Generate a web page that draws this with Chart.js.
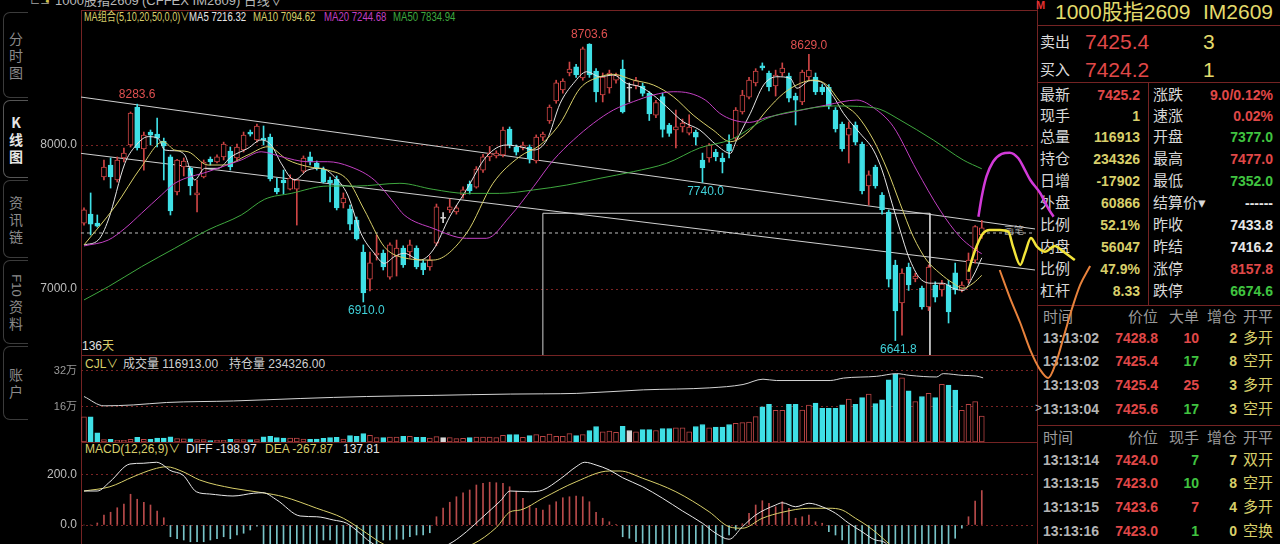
<!DOCTYPE html>
<html lang="zh-CN">
<head>
<meta charset="utf-8">
<title>1000股指2609 日线</title>
<script src="https://cdn.jsdelivr.net/npm/chart.js@4.4.1/dist/chart.umd.min.js"></script>
<style>
  html, body { margin: 0; padding: 0; background: #000; }
  body { width: 1280px; height: 544px; overflow: hidden; position: relative;
         font-family: "Liberation Sans", Arial, "Noto Sans CJK SC", sans-serif; color: #ddd; }
  .t { position: absolute; white-space: nowrap; line-height: 1.15; }
  .hl { position: absolute; height: 1px; background: #742323; }
  .vl { position: absolute; width: 1px; background: #742323; }
  .tab { position: absolute; left: 3px; width: 25px; box-sizing: border-box;
         border: 1px solid #3b3b3b; border-right: none; border-radius: 7px 0 0 7px;
         display: flex; align-items: center; justify-content: center; text-align: center;
         font-family: "Noto Sans CJK SC", sans-serif; font-size: 14px; line-height: 17px; color: #8a8a8a; }
  .tab.on { color: #e6e6e6; border-color: #555; font-weight: bold; }
  .rot { display: inline-block; transform: rotate(90deg); font-family: "Liberation Sans", sans-serif;
         font-size: 13px; margin: 4px 0; }
  canvas { position: absolute; left: 0; z-index: 5; }
  #priceChart { z-index: 6; }
  #penChart { z-index: 7; }
</style>
</head>
<body>
<!-- 左侧页签 -->
<div class="tab" style="top:12px;height:86px">分<br>时<br>图</div>
<div class="tab on" style="top:100px;height:78px">K<br>线<br>图</div>
<div class="tab" style="top:180px;height:78px">资<br>讯<br>链</div>
<div class="tab" style="top:260px;height:84px"><div><span class="rot">F10</span><br>资<br>料</div></div>
<div class="tab" style="top:346px;height:74px">账<br>户</div>

<!-- 框线 -->
<div class="vl" style="left:81px;top:10px;height:534px"></div>
<div class="vl" style="left:1037px;top:0;height:544px"></div>
<div class="hl" style="left:81px;top:10px;width:956px"></div>
<div class="hl" style="left:81px;top:355px;width:956px"></div>
<div class="hl" style="left:81px;top:442px;width:956px"></div>
<div class="hl" style="left:1037px;top:25px;width:243px"></div>
<div class="hl" style="left:1037px;top:82px;width:243px"></div>
<div class="vl" style="left:1148px;top:82px;height:223px"></div>
<div class="hl" style="left:1037px;top:305px;width:243px"></div>
<div class="hl" style="left:1037px;top:425px;width:243px"></div>

<div id="labels"></div>

<canvas id="volChart" width="1100" height="90" style="top:355px"></canvas>
<canvas id="macdChart" width="1100" height="101" style="top:443px"></canvas>
<canvas id="priceChart" width="1100" height="390" style="top:0"></canvas>
<canvas id="penChart" width="1100" height="390" style="top:0"></canvas>

<script>
// 日线 K 线数据 (从图上读取, 共 136 天)
const opens = [7458,7521,7458,7778,7861,7757,7910,8000,8264,7972,
  8090,8076,8028,7917,7674,7847,7840,7653,7778,7903,
  7882,7917,7958,7910,7965,8090,8035,8048,8055,7701,
  7757,7694,7694,7819,7917,7875,7833,7757,7764,7597,
  7556,7479,7257,7069,7236,7250,7083,7229,7285,7257,
  7285,7181,7153,7319,7491,7549,7535,7653,7729,7708,
  7826,7917,7924,7931,8111,7986,7979,7986,7889,8055,
  8167,8306,8382,8500,8542,8465,8701,8514,8347,8396,
  8451,8528,8394,8410,8410,8359,8208,8336,8139,8104,
  8125,8083,8090,7896,7910,7951,7910,8007,8048,8229,
  8333,8431,8549,8500,8410,8500,8479,8340,8299,8472,
  8472,8403,8400,8243,8146,8069,8139,8007,7715,7847,
  7653,7535,7167,6903,7153,7070,7007,6875,7028,6993,
  7028,7113,6993,7063,7201,7377];
const highs = [7563,7667,7514,7896,7910,7917,7979,8229,8283.6,8090,
  8104,8187,8048,7931,7900,7910,7847,7757,7896,7917,
  7931,8020,7986,8007,8090,8104,8145,8132,8076,7771,
  7826,7792,7764,7924,7951,7889,7847,7778,7785,7667,
  7583,7500,7306,7257,7375,7271,7320,7340,7300,7340,
  7300,7200,7230,7590,7530,7625,7580,7710,7750,7850,
  7935,7990,7960,8125,8125,8000,8020,8000,8070,8090,
  8278,8450,8460,8576,8560,8680,8703.6,8530,8500,8520,
  8500,8590,8430,8470,8430,8370,8310,8360,8150,8243,
  8180,8210,8104,7944,8010,7970,7944,8070,8260,8380,
  8470,8530,8570,8514,8520,8570,8500,8360,8520,8629,
  8500,8420,8420,8260,8160,8160,8160,8020,7820,7860,
  7670,7549,7200,7140,7180,7110,7020,7167,7050,7060,
  7060,7180,7050,7250,7440,7477];
const lows = [7444,7375,7430,7757,7701,7743,7882,7986,7965,7826,
  8000,7986,7757,7514,7653,7785,7653,7535,7771,7861,
  7875,7896,7826,7896,7951,8062,8020,8000,7750,7660,
  7660,7688,7444,7806,7861,7826,7736,7604,7549,7563,
  7410,7340,6910,6986,7201,7132,7069,7090,7150,7220,
  7140,7100,7130,7300,7460,7530,7520,7630,7660,7700,
  7810,7890,7910,7917,7980,7930,7965,7875,7875,8030,
  8150,8290,8360,8480,8470,8450,8470,8299,8299,8360,
  8430,8222,8299,8390,8340,8170,8190,8055,8060,7979,
  8090,8070,8000,7740,7880,7890,7806,7910,8030,8215,
  8320,8410,8520,8375,8340,8480,8300,8139,8280,8450,
  8350,8350,8250,8090,7958,7875,8000,7660,7583,7700,
  7520,7014,6641.8,6680,6990,7050,6860,6850,6910,6950,
  6764,6965,6980,7040,7180,7352];
const closes = [7549,7451,7437,7847,7778,7896,7944,8222,7979,8069,
  8069,8048,7993,7542,7896,7889,7715,7667,7882,7882,
  7917,8007,7847,7986,8069,8076,8132,8035,7764,7674,
  7736,7771,7757,7910,7882,7840,7743,7736,7563,7632,
  7451,7347,6972,7181,7250,7153,7306,7285,7167,7306,
  7153,7132,7201,7570,7491,7570,7563,7688,7681,7833,
  7917,7944,7944,8104,8000,7951,8000,7903,8055,8076,
  8264,8431,8444,8528,8486,8667,8486,8368,8472,8500,
  8486,8229,8394,8447,8359,8215,8294,8109,8081,8127,
  8153,8125,8055,7840,8000,7917,7882,7958,8243,8347,
  8451,8514,8535,8403,8486,8535,8326,8312,8507,8521,
  8368,8368,8271,8111,7972,8118,8020,7681,7792,7715,
  7549,7069,6847,7111,7028,7090,6875,7153,6944,7035,
  6840,6993,7028,7201,7433.8,7425.2];

// 成交量 (万手)
const volumes = [11.3,11.3,4.1,1.1,1.2,0.8,0.8,1.2,2.1,1.2,
  1.2,1.8,1.8,2.3,1.5,1.4,1.4,1.1,1.05,0.6,
  0.75,0.75,1.2,1.05,1.05,1.05,1.05,2.3,2.6,2.0,
  1.8,1.8,1.8,1.35,1.2,1.35,1.65,1.95,2.1,1.35,
  2.85,2.55,3.75,3.0,1.95,1.95,2.25,2.25,2.55,2.55,
  2.1,2.1,1.8,2.4,1.95,1.95,1.5,1.65,1.95,2.25,
  2.25,2.25,1.95,3.0,3.3,3.3,2.1,2.9,3.3,2.6,
  3.6,2.6,2.6,3.8,2.9,3.3,5.2,7.0,4.6,4.9,
  4.4,7.1,5.2,4.6,5.6,5.6,5.2,6.1,6.1,6.4,
  6.4,4.6,7.0,7.9,6.4,6.7,6.7,7.9,8.4,8.7,
  9.0,11.4,15.8,17.0,14.3,14.3,17.0,17.0,14.4,16.6,
  17.5,15.2,15.2,15.2,16.7,19.3,17.0,20.0,21.6,17.3,
  19.0,28.0,30.7,28.9,23.1,18.2,20.5,21.9,20.0,26.0,
  25.7,23.4,14.3,17.0,18.2,11.69];

// 持仓量曲线 (按成交量副图刻度, 万)
const oiPts = [[0,20.5],[3,16.3],[7.4,16.7],[12.4,17.8],[22.5,18.5],[32.5,19.6],[42.5,20.5],[52.5,21],
  [64.1,21.6],[69.1,21.7],[74.1,21.9],[84.1,23.5],[94.1,24.4],[99.1,25.9],[102.1,28.3],[104.1,27.7],
  [112.2,27.7],[114.2,28.8],[119.2,29.6],[122.2,30.8],[124.2,30],[128.2,29.3],[129.2,30.8],[132.2,30],
  [134.2,29.7],[135.2,28.9]];

// 均线 (x = 第几根K线, y = 价格)
const ma5Pts = [[0,7306],[2.15,7340],[3.65,7479],[6.15,7873],[7.65,7988],[9.65,8058],[11.15,8046],[12.15,7965],
  [13.65,7960],[15.15,7931],[16.65,7757],[18.15,7838],[20.15,7838],[22.15,7919],[24.65,7977],[26.65,8035],
  [28.15,8000],[29.65,7873],[31.65,7757],[33.65,7826],[35.65,7838],[37.65,7780],[39.65,7653],[41.65,7386],
  [43.65,7248],[45.15,7178],[46.65,7224],[48.15,7248],[50.5,7201],[52.5,7271],[55,7502],[57.5,7688],
  [60.5,7919],[63.5,8000],[66,7984],[67.6,7965],[69.6,8035],[71.6,8289],[73.6,8428],[75.6,8509],
  [77.6,8474],[79.6,8486],[81.6,8428],[83.6,8405],[85.6,8347],[87.6,8266],[90.1,8162],[92.6,8104],
  [95.1,8000],[97.2,7942],[98.1,8030],[100.2,8220],[102.2,8417],[104.2,8474],[106.2,8463],[107.2,8394],
  [109.2,8447],[110.7,8440],[112.7,8336],[114.2,8220],[116.7,8081],[118.7,7965],[120,7826],[121.5,7595],
  [122.7,7410],[124,7224],[125.7,7074],[127.7,7040],[129.2,7040],[130.7,7005],[132.2,6990],[133.7,7090],
  [135,7216.32]];
const ma10Pts = [[0,7306],[4.65,7572],[8.65,7850],[11.9,8023],[13.65,7965],[15.65,7953],[18.65,7861],[21,7861],
  [24.65,7931],[27.65,7988],[30.65,7896],[33.65,7850],[36.65,7826],[39.65,7757],[42.15,7549],[45.15,7294],
  [47.5,7224],[52.5,7201],[57.5,7386],[61.5,7734],[65.5,7919],[68.6,8000],[71.6,8151],[74.6,8394],
  [77.6,8474],[79.6,8491],[82.6,8451],[85.6,8417],[88.6,8336],[91.6,8208],[94.6,8104],[97.2,8023],
  [100.2,8104],[102.7,8243],[105.2,8359],[107.7,8428],[109.7,8451],[111.7,8417],[113.7,8301],[116.2,8208],
  [118.7,8035],[120.8,7826],[122.7,7595],[124.7,7363],[126.7,7201],[128.7,7109],[130.7,7040],[132.2,7005],
  [133.7,7040],[135,7094.62]];
const ma20Pts = [[0,7299],[3.65,7340],[6.15,7421],[8.65,7526],[11.65,7653],[13.65,7734],[18.65,7815],[23.65,7896],
  [26.65,7953],[29.65,7919],[33.65,7884],[36.65,7884],[40,7850],[43.65,7757],[46.65,7597],[48.15,7514],
  [52.5,7421],[57.5,7352],[60.5,7352],[64,7502],[67.6,7711],[70.6,7896],[73.6,8035],[76.6,8151],
  [79.6,8243],[82.6,8301],[85.6,8347],[88.6,8370],[91.1,8359],[93.5,8310],[95.6,8220],[97.6,8174],
  [100.1,8157],[102.7,8192],[106.7,8231],[111.7,8278],[116.2,8312],[119.2,8243],[121.7,8127],[125.2,7826],
  [128.7,7549],[131.7,7363],[133.7,7283],[135,7244.68]];
const ma50Pts = [[0,6924],[3.65,7016],[8.65,7155],[13.65,7283],[18.65,7410],[23.65,7514],[27.15,7623],[31.15,7664],
  [36.65,7715],[41,7715],[47.5,7734],[52.5,7692],[57.5,7664],[62.5,7664],[67.6,7688],[72.6,7722],
  [77.6,7769],[82.6,7815],[87.6,7873],[92.6,7980],[97.4,8040],[102.7,8185],[107.7,8243],[112.7,8271],
  [117.7,8264],[119.7,8248],[122.7,8174],[127.7,8035],[132.2,7896],[135,7834.94]];

// MACD(12,26,9)
const macdHist = [0,0,8,40,51,69,84,123,103,91,80,56,29,
  -47,-55,-60,-67,-67,-67,-60,-55,-47,-55,-40,-33,-20,-5,
  -95,-100,-110,-115,-110,-105,-95,-88,
  -85,-60,-60,-78,
  -90,-100,-110,-120,-115,-100,
  -60,-60,-57,-57,-47,-40,-40,-31,
  33,68,91,113,129,140,160,167,171,169,167,153,135,
  107,77,67,60,80,93,109,113,116,113,93,51,27,13,3,
  -47,-53,-67,-73,
  -85,-95,-100,-110,-115,-120,-115,-110,-100,-95,-85,-78,
  -40,-20,
  5,47,80,97,87,73,93,67,27,33,40,13,7,
  -27,-40,-60,
  -85,-100,-130,-150,-160,-180,-230,-280,-290,-280,-250,-230,-190,-160,-120,-95,
  -53,-13,33,96,137.81];
const diffPts = [[0,136],[2,136],[3.9,173],[6.9,244],[8.9,247],[10.9,251],[11.9,240],[12.9,219],[14.9,199],
  [16.9,133],[18.9,124],[22.4,116],[25.5,127],[26.9,129],[29,100],[32.5,36],[35,33],[37.5,20],[39.5,7],
  [41.5,-33],[43,-67],[46,-110],[50,-130],[53,-100],[55.5,-67],[57.5,-27],[60,33],[62.6,96],[64.1,136],
  [67,133],[69,140],[71.6,184],[74,233],[75.3,251],[77,240],[79,220],[81,189],[84,153],[87,107],[90,56],
  [93,7],[95,-33],[97,-57],[99,-7],[101,40],[104,80],[105,89],[107,73],[109,87],[111,73],[113,47],[115,7],
  [117,-27],[119,-60],[120.7,-76],[123,-250],[125,-330],[127,-350],[129,-330],[131,-290],[133,-250],[135,-198.97]];
const deaPts = [[0,136],[3.9,153],[7.4,193],[10.4,223],[12.4,233],[14.9,213],[17.4,180],[22.4,147],[26.9,129],
  [30,113],[35,67],[39,27],[42.5,-33],[45,-76],[49,-110],[53,-115],[56,-95],[58.5,-76],[62,-10],[64.1,53],
  [65.6,60],[69,107],[74,173],[79,216],[80.6,216],[84,187],[89,133],[94,53],[97,-7],[99,-13],[102,27],
  [105,51],[109,67],[112,67],[114,60],[116,27],[118,-7],[120.7,-67],[124,-150],[127,-220],[130,-260],
  [133,-275],[135,-267.87]];

// 画线: 两条趋势线, 矩形框, 水平虚线, 以及手绘的三笔
const trendA = [[-0.45,8333],[143,7417]];
const trendB = [[-0.45,7942],[143,7132]];
const rectBox = [[69,6541.7],[69,7526],[127.2,7526],[127.2,6541.7]];
const dashLine = [[-0.45,7389],[143,7389]];
const penMagenta = [[134.5,7502],[135,7641],[135.7,7780],[136.7,7884],[138,7938],[139.2,7947],[140.5,7908],
  [141.5,7826],[142.3,7757],[143.8,7665],[145,7560],[145.8,7502]];
const penYellow = [[133,7120],[133.5,7201],[134.2,7294],[135.2,7387],[136.2,7410],[137.7,7410],[139,7398],
  [139.7,7294],[140.8,7167],[141.5,7248],[142.4,7354],[143.3,7294],[144.5,7259],[146,7299],[147.3,7259],[149,7201]];
const penOrange = [[137.7,7132],[139.2,6944],[140.8,6764],[142.3,6576],[143.8,6438],[145,6382],[146.2,6493],
  [147.4,6681],[148.6,6868],[149.8,7028],[151.3,7160]];

// 标注最高/最低价的K线
const highMarks = [8, 76, 109];
const lowMarks = [42, 93, 122];

const priceTicks = [7000, 8000];
const volTicks = [16, 32];
const macdTicks = [0, 200];

const UP = '#cf4545', DOWN = '#3fe0e6', FLAT = '#d8d8d8';
const YEL = '#d8cf6a', RED = '#e04848', GRN = '#40c440', WHT = '#e6e6e6';

function dir(i) { return closes[i] > opens[i] ? 1 : (closes[i] < opens[i] ? -1 : 0); }
function candleColor(i) { const d = dir(i); return d > 0 ? UP : (d < 0 ? DOWN : FLAT); }
const pts = arr => arr.map(p => ({ x: p[0], y: p[1] }));
const last = arr => arr[arr.length - 1][1];

// ---- 文字 ----
const P = document.getElementById('labels');
function put(text, x, y, color, size, o) {
  o = o || {};
  const s = document.createElement('span');
  s.className = 't';
  s.textContent = text;
  s.style.left = x + 'px';
  s.style.top = y + 'px';
  s.style.color = color;
  s.style.fontSize = size + 'px';
  if (o.bold) s.style.fontWeight = 'bold';
  s.style.transformOrigin = o.right ? 'right center' : 'left center';
  s.style.transform = 'translate(' + (o.right ? '-100%' : '0') + ',-50%)' + (o.sx ? ' scaleX(' + o.sx + ')' : '');
  P.appendChild(s);
}

put('⊏⊐', 30, 1, '#8a8a8a', 12);
put('●', 45, 1, '#d8c040', 7);
put('1000股指2609', 55, 1, '#b8b8b8', 13);
put('M', 135, -2, '#c04040', 8);
put('(CFFEX IM2609)   日线∨', 142, 1, '#b8b8b8', 13);

put('MA组合(5,10,20,50,0,0)∨', 84, 18, YEL, 12, { sx: 0.76 });
put('MA5 ' + last(ma5Pts).toFixed(2), 189, 18, WHT, 12, { sx: 0.8 });
put('MA10 ' + last(ma10Pts).toFixed(2), 253, 18, YEL, 12, { sx: 0.8 });
put('MA20 ' + last(ma20Pts).toFixed(2), 324, 18, '#c23fc2', 12, { sx: 0.8 });
put('MA50 ' + last(ma50Pts).toFixed(2), 393, 18, '#3fa83f', 12, { sx: 0.8 });
put(String(opens.length), 82, 347, '#e0e0e0', 12);
put('天', 102, 347, YEL, 12);
put('画笔', 1004, 231, '#9a9a9a', 10);

put('CJL∨', 85, 365, YEL, 12);
put('成交量 116913.00', 123, 365, '#d0d0d0', 12);
put('持仓量 234326.00', 229, 365, '#d0d0d0', 12);

put('MACD(12,26,9)∨', 85, 450, YEL, 12);
put('DIFF ' + last(diffPts).toFixed(2), 186, 450, WHT, 12);
put('DEA ' + last(deaPts).toFixed(2), 265, 450, YEL, 12);
put(macdHist[macdHist.length - 1].toFixed(2), 343, 450, WHT, 12);

// 右侧报价
put('M', 1036, 5, '#e03030', 11, { bold: true });
put('1000股指2609', 1055, 12, '#e3db6c', 21);
put('IM2609', 1203, 12, '#e3db6c', 21);
put('卖出', 1040, 42, '#dcdcdc', 15);
put('7425.4', 1085, 42, RED, 21);
put('3', 1203, 42, '#e3db6c', 21);
put('买入', 1040, 70, '#dcdcdc', 15);
put('7424.2', 1085, 70, RED, 21);
put('1', 1203, 70, '#e3db6c', 21);

const quoteRows = [
  ['最新','7425.2',RED,'涨跌','9.0/0.12%',RED,95],
  ['现手','1',YEL,'速涨','0.02%',RED,116],
  ['总量','116913',YEL,'开盘','7377.0',GRN,137],
  ['持仓','234326',YEL,'最高','7477.0',RED,159],
  ['日增','-17902',YEL,'最低','7352.0',GRN,181],
  ['外盘','60866',YEL,'结算价▾','------',WHT,203],
  ['比例','52.1%',YEL,'昨收','7433.8',WHT,225],
  ['内盘','56047',YEL,'昨结','7416.2',WHT,247],
  ['比例','47.9%',YEL,'涨停','8157.8',RED,269],
  ['杠杆','8.33',YEL,'跌停','6674.6',GRN,291]
];
quoteRows.forEach(r => {
  put(r[0], 1040, r[6], '#d8d8d8', 15);
  put(r[1], 1140, r[6], r[2], 14, { bold: true, right: true });
  put(r[3], 1153, r[6], '#d8d8d8', 15);
  put(r[4], 1273, r[6], r[5], 14, { bold: true, right: true });
});

function tradeHeader(y, col3) {
  put('时间', 1043, y, '#9a9a9a', 15);
  put('价位', 1158, y, '#9a9a9a', 15, { right: true });
  put(col3, 1199, y, '#9a9a9a', 15, { right: true });
  put('增仓', 1237, y, '#9a9a9a', 15, { right: true });
  put('开平', 1243, y, '#9a9a9a', 15);
}
function tradeRow(r) {
  put(r[0], 1043, r[6], '#b4b4b4', 14, { bold: true });
  put(r[1], 1158, r[6], RED, 14, { bold: true, right: true });
  put(r[2], 1199, r[6], r[3], 14, { bold: true, right: true });
  put(r[4], 1237, r[6], YEL, 14, { bold: true, right: true });
  put(r[5], 1243, r[6], YEL, 15);
}
tradeHeader(317, '大单');
[['13:13:02','7428.8','10',RED,'2','多开',338],
 ['13:13:02','7425.4','17',GRN,'8','空开',361],
 ['13:13:03','7425.4','25',RED,'3','多开',385],
 ['13:13:04','7425.6','17',GRN,'3','空开',409]].forEach(tradeRow);
put('>', 1035, 409, '#bbbbbb', 12);
tradeHeader(438, '现手');
[['13:13:14','7424.0','7',GRN,'7','双开',460],
 ['13:13:15','7423.0','10',GRN,'8','空开',483],
 ['13:13:15','7423.6','7',RED,'4','多开',507],
 ['13:13:16','7423.0','1',GRN,'0','空换',531]].forEach(tradeRow);

// ---- 图表 ----
Chart.defaults.font.family = '"Liberation Sans", Arial, sans-serif';
const idx = opens.map((_, i) => i);
const PRICE_MIN = 6541.7, PRICE_MAX = 8937.5;

function options(yOpts, pad) {
  return {
    responsive: false, animation: false, events: [],
    layout: { padding: pad },
    plugins: { legend: { display: false }, tooltip: { enabled: false } },
    scales: {
      x: { type: 'linear', min: -0.45, max: 143, display: false, offset: false },
      y: Object.assign({
        afterFit(s) { s.width = 81; s.paddingTop = 0; s.paddingBottom = 0; },
        grid: { color: '#7a2424', drawTicks: false, lineWidth: 1 },
        border: { display: false, dash: [2, 3] }
      }, yOpts)
    }
  };
}
function line(data, color, extra) {
  return Object.assign({ type: 'line', data: pts(data), borderColor: color, borderWidth: 1,
    pointRadius: 0, cubicInterpolationMode: 'monotone', order: 5 }, extra || {});
}

const extremeLabels = {
  id: 'extremeLabels',
  afterDatasetsDraw(chart) {
    const { ctx, scales: { x, y } } = chart;
    ctx.save();
    ctx.font = '12px "Liberation Sans", Arial, sans-serif';
    ctx.textAlign = 'center';
    ctx.textBaseline = 'middle';
    highMarks.forEach(i => {
      ctx.fillStyle = '#e05050';
      ctx.fillText(highs[i].toFixed(1), x.getPixelForValue(i), y.getPixelForValue(highs[i]) - 9);
    });
    lowMarks.forEach(i => {
      ctx.fillStyle = '#40d2da';
      ctx.fillText(lows[i].toFixed(1), x.getPixelForValue(i) + 3, y.getPixelForValue(lows[i]) + 9);
    });
    ctx.restore();
  }
};

new Chart(document.getElementById('priceChart'), {
  type: 'bar',
  data: {
    datasets: [
      line(rectBox, '#d0d0d0', { tension: 0, cubicInterpolationMode: 'default', order: 10 }),
      line(trendA, '#d0d0d0', { order: 10 }),
      line(trendB, '#d0d0d0', { order: 10 }),
      line(dashLine, '#bdbdbd', { borderDash: [3, 3], order: 10 }),
      { type: 'bar', data: idx.map(i => ({ x: i, y: [lows[i], highs[i]] })), grouped: false,
        barThickness: 1, borderWidth: 0, backgroundColor: c => candleColor(c.dataIndex), order: 8 },
      { type: 'bar', data: idx.map(i => ({ x: i, y: [opens[i], closes[i]] })), grouped: false,
        barThickness: 5, minBarLength: 1, borderWidth: 1, borderSkipped: false,
        backgroundColor: c => dir(c.dataIndex) > 0 ? '#000' : candleColor(c.dataIndex),
        borderColor: c => candleColor(c.dataIndex), order: 7 },
      line(ma50Pts, '#3fa83f'),
      line(ma20Pts, '#c23fc2'),
      line(ma10Pts, '#d8cf6a'),
      line(ma5Pts, '#e6e6e6')
    ]
  },
  options: options({
    min: PRICE_MIN, max: PRICE_MAX,
    afterBuildTicks(a) { a.ticks = priceTicks.map(v => ({ value: v })); },
    ticks: { color: '#bdbdbd', font: { size: 12 }, padding: 4, callback: v => v.toFixed(1) }
  }, { top: 10, bottom: 35, left: 0, right: 65 }),
  plugins: [extremeLabels]
});

// 手绘笔迹: 同一价格刻度, 但绘图区向右延伸到报价栏上方
new Chart(document.getElementById('penChart'), {
  type: 'line',
  data: {
    datasets: [
      line(penMagenta, '#d23ad8', { borderWidth: 2.5, clip: false, order: 1 }),
      line(penYellow, '#f2e43a', { borderWidth: 2.5, clip: false, order: 1 }),
      line(penOrange, '#e8823c', { borderWidth: 2, clip: false, order: 1 })
    ]
  },
  options: {
    responsive: false, animation: false, events: [],
    layout: { padding: { top: 10, bottom: 35, left: 81, right: 0 } },
    plugins: { legend: { display: false }, tooltip: { enabled: false } },
    scales: {
      x: { type: 'linear', min: -0.45, max: -0.45 + 1019 / 6.65, display: false },
      y: { min: PRICE_MIN, max: PRICE_MAX, display: false }
    }
  }
});

new Chart(document.getElementById('volChart'), {
  type: 'bar',
  data: {
    datasets: [
      { type: 'bar', data: idx.map(i => ({ x: i, y: volumes[i] })), grouped: false,
        barThickness: 5, borderWidth: 1, borderSkipped: false,
        backgroundColor: c => dir(c.dataIndex) > 0 ? '#000' : candleColor(c.dataIndex),
        borderColor: c => dir(c.dataIndex) > 0 ? '#b84444' : candleColor(c.dataIndex), order: 5 },
      line(oiPts, '#d4d4d4', { order: 1 })
    ]
  },
  options: options({
    min: 0, max: 38.3,
    afterBuildTicks(a) { a.ticks = volTicks.map(v => ({ value: v })); },
    ticks: { color: '#9a9a9a', font: { size: 11 }, padding: 4, callback: v => v + '万' }
  }, { top: 2, bottom: 3, left: 0, right: 65 })
});

new Chart(document.getElementById('macdChart'), {
  type: 'bar',
  data: {
    datasets: [
      { type: 'bar', data: idx.map(i => ({ x: i, y: macdHist[i] })), grouped: false,
        barThickness: 1, borderWidth: 0,
        backgroundColor: c => macdHist[c.dataIndex] >= 0 ? '#b84a4a' : '#78c4c8', order: 5 },
      line(diffPts, '#e8e8e8', { order: 1 }),
      line(deaPts, '#d8cf6a', { order: 1 })
    ]
  },
  options: options({
    min: -76, max: 328,
    afterBuildTicks(a) { a.ticks = macdTicks.map(v => ({ value: v })); },
    ticks: { color: '#bdbdbd', font: { size: 12 }, padding: 4, callback: v => v.toFixed(1) }
  }, { top: 0, bottom: 0, left: 0, right: 65 })
});
</script>
</body>
</html>
